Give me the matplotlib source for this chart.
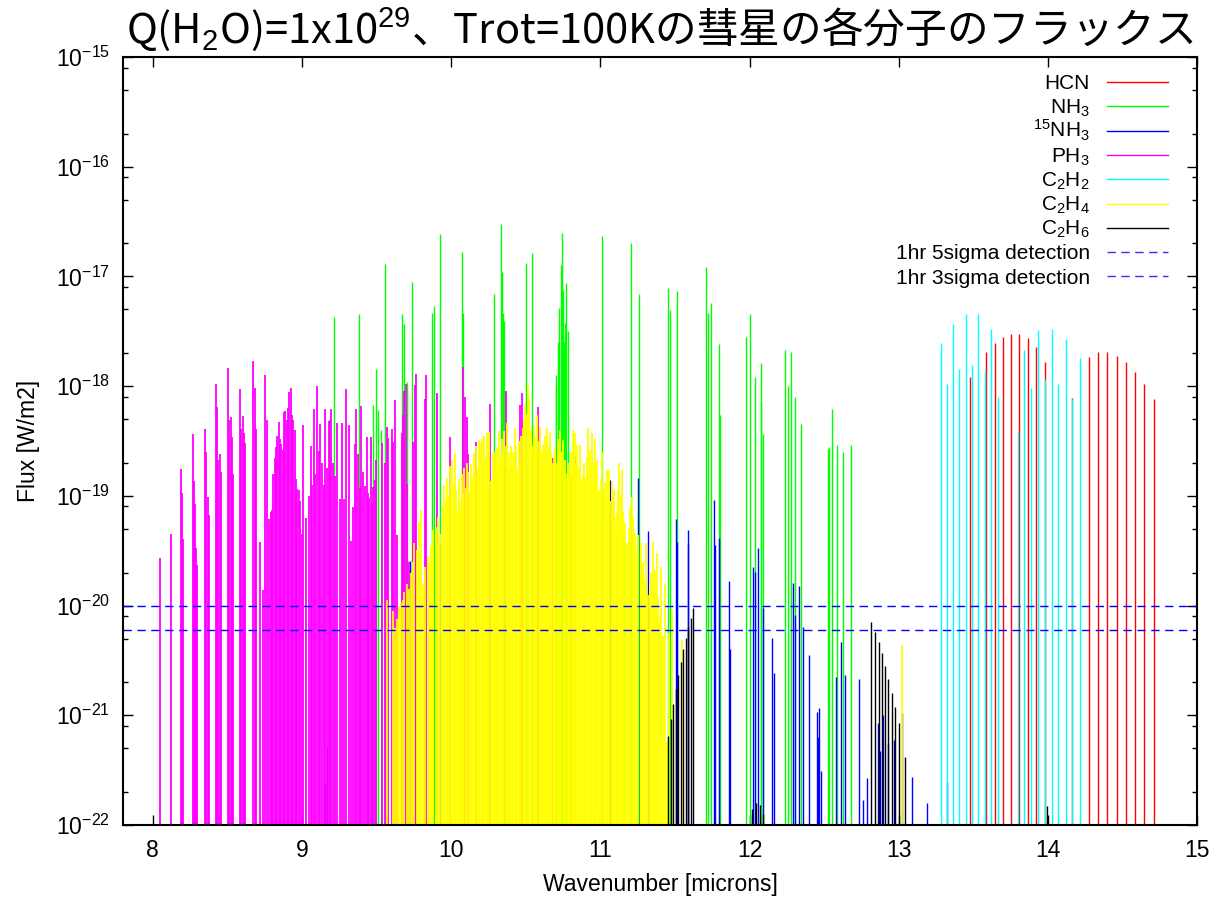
import matplotlib
matplotlib.use('Agg')
import matplotlib.pyplot as plt
import numpy as np

plt.rcParams['font.family'] = ['Liberation Sans', 'DejaVu Sans']
plt.rcParams['mathtext.fontset'] = 'custom'
plt.rcParams['mathtext.rm'] = 'Liberation Sans'
plt.rcParams['mathtext.it'] = 'Liberation Sans:italic'
plt.rcParams['mathtext.bf'] = 'Liberation Sans:bold'

# line positions [microns] and log10(flux [W/m2])
hcn_wl = [13.480, 13.587, 13.643, 13.697, 13.754, 13.808, 13.864, 13.922, 13.980,
          14.159, 14.277, 14.337, 14.397, 14.461, 14.523, 14.584, 14.646, 14.709]
hcn_lf = [-17.919, -17.691, -17.609, -17.552, -17.524, -17.524, -17.558, -17.640, -17.779,
          -18.107, -17.736, -17.691, -17.691, -17.722, -17.779, -17.871, -17.983, -18.117]

nh3_wl = [9.217, 9.383, 9.479, 9.495, 9.507, 9.528, 9.555, 9.669, 9.687, 9.702, 9.736,
          9.870, 9.888, 9.923, 10.071, 10.078, 10.288, 10.334, 10.341, 10.350, 10.357,
          10.504, 10.544, 10.700, 10.705, 10.714, 10.725, 10.734, 10.741, 10.747, 10.757,
          10.765, 10.772, 10.783, 11.010, 11.204, 11.259, 11.456, 11.469, 11.517, 11.708,
          11.723, 11.741, 11.795, 11.805, 11.974, 12.002, 12.034, 12.074, 12.080, 12.090,
          12.240, 12.256, 12.275, 12.306, 12.342, 12.523, 12.534, 12.556, 12.585, 12.625,
          12.677]
nh3_lf = [-17.372, -17.345, -18.171, -17.843, -18.220, -18.399, -16.889, -17.345, -17.433,
          -17.964, -17.050, -17.330, -17.269, -16.615, -16.774, -17.330, -17.162, -16.524,
          -16.956, -17.336, -17.403, -16.880, -16.783, -17.900, -18.000, -17.594, -17.290,
          -16.895, -16.606, -17.123, -17.600, -17.427, -17.062, -17.497, -16.631, -16.692,
          -17.160, -17.102, -17.305, -17.132, -16.911, -17.335, -17.239, -17.615, -18.260,
          -17.554, -17.342, -17.919, -17.785, -18.140, -18.440, -17.670, -18.000, -17.691,
          -18.095, -18.348, -18.572, -18.551, -18.211, -18.536, -18.597, -18.536]

n15h3_wl = [9.155, 9.166, 9.725, 9.928, 10.390, 11.065, 11.255, 11.322, 11.507, 11.513,
            11.586, 11.590, 11.759, 11.768, 11.795, 11.862, 11.869, 12.025, 12.034, 12.059,
            12.088, 12.148, 12.163, 12.293, 12.302, 12.331, 12.360, 12.400, 12.450, 12.459,
            12.468, 12.477, 12.579, 12.610, 12.641, 12.733, 12.762, 12.786, 12.858, 12.876,
            12.895, 12.929, 12.969, 13.024, 13.090, 13.192, 13.322]
n15h3_lf = [-21.64, -21.29, -19.591, -19.432, -18.734, -18.855, -18.840, -19.317, -19.210,
            -19.420, -19.311, -19.440, -19.037, -19.448, -19.380, -19.776, -20.400, -19.645,
            -19.690, -19.478, -20.025, -20.298, -20.617, -19.791, -20.090, -19.818, -20.192,
            -20.450, -20.967, -21.200, -20.937, -21.510, -20.654, -20.335, -20.633, -20.669,
            -21.772, -21.569, -21.067, -21.330, -20.997, -21.250, -21.225, -20.982, -21.559,
            -21.80, -21.61]

ph3_wl = [8.051, 8.120, 8.186, 8.197, 8.203, 8.268, 8.274, 8.283, 8.292, 8.299, 8.347,
          8.358, 8.367, 8.378, 8.424, 8.431, 8.440, 8.449, 8.455, 8.503, 8.512, 8.523,
          8.534, 8.541, 8.585, 8.594, 8.603, 8.610, 8.616, 8.671, 8.682, 8.693, 8.720,
          8.742, 8.755, 8.769, 8.782, 8.791, 8.800, 8.809, 8.817, 8.826, 8.835, 8.844,
          8.853, 8.862, 8.871, 8.880, 8.889, 8.898, 8.907, 8.916, 8.925, 8.934, 8.943,
          8.952, 8.961, 8.970, 8.978, 8.987, 8.998, 9.007, 9.030, 9.045, 9.058, 9.068,
          9.078, 9.090, 9.101, 9.112, 9.123, 9.135, 9.145, 9.153, 9.166, 9.179, 9.191,
          9.197, 9.210, 9.224, 9.237, 9.255, 9.271, 9.284, 9.297, 9.313, 9.328, 9.343,
          9.354, 9.365, 9.374, 9.387, 9.398, 9.412, 9.420, 9.434, 9.443, 9.452, 9.460,
          9.469, 9.478, 9.487, 9.496, 9.535, 9.557, 9.568, 9.579, 9.601, 9.613, 9.626,
          9.635, 9.668, 9.675, 9.684, 9.699, 9.706, 9.719, 9.746, 9.755, 9.764, 9.822,
          9.831, 9.908, 9.992, 10.077, 10.093, 10.104, 10.116, 10.169, 10.263, 10.365,
          10.461, 10.472, 10.584, 10.684, 10.801, 10.830]
ph3_lf = [-19.563, -19.347, -18.758, -18.971, -19.396, -18.439, -18.864, -19.077, -19.478,
          -19.630, -18.390, -18.603, -19.013, -19.174, -17.977, -18.190, -18.676, -18.615,
          -18.782, -17.831, -18.311, -18.281, -18.463, -18.803, -18.026, -18.390, -18.272,
          -18.427, -18.518, -17.770, -18.016, -18.387, -19.420, -19.855, -17.898, -18.305,
          -19.208, -19.144, -19.128, -18.800, -18.651, -18.554, -18.451, -18.329, -18.481,
          -18.524, -18.582, -18.232, -18.223, -18.308, -18.202, -18.050, -18.019, -18.263,
          -18.308, -18.399, -18.849, -18.937, -18.943, -19.043, -19.350, -18.354, -19.200,
          -19.000, -18.548, -18.900, -18.205, -18.800, -18.001, -18.594, -18.345, -18.703,
          -18.900, -18.208, -18.749, -18.317, -18.311, -18.211, -18.700, -18.816, -18.336,
          -19.025, -18.336, -19.028, -18.029, -18.351, -19.411, -19.098, -18.524, -18.208,
          -18.618, -18.931, -18.181, -18.782, -18.907, -18.460, -18.977, -19.016, -18.460,
          -19.074, -18.916, -18.855, -18.673, -18.521, -18.697, -18.372, -18.469, -18.393,
          -18.506, -18.129, -19.353, -18.427, -18.263, -18.044, -17.980, -18.895, -19.600,
          -18.512, -17.986, -17.886, -18.120, -17.901, -18.065, -18.466, -17.822, -18.101,
          -18.284, -18.618, -18.512, -18.162, -18.044, -18.171, -18.065, -18.187, -18.658,
          -18.818, -18.636]

c2h2_wl = [13.282, 13.323, 13.363, 13.407, 13.449, 13.492, 13.534, 13.577, 13.619, 13.665,
           13.798, 13.842, 13.887, 13.931, 13.980, 14.026, 14.070, 14.119, 14.163, 14.212]
c2h2_lf = [-17.603, -17.983, -17.436, -17.846, -17.345, -17.804, -17.345, -17.861, -17.479,
           -18.098, -18.408, -17.673, -18.014, -17.488, -17.934, -17.476, -17.977, -17.567,
           -18.114, -17.746]

c2h4_wl = [9.572, 9.610, 9.625, 9.639, 9.650, 9.662, 9.675, 9.686, 9.702,
           9.715, 9.730, 9.742, 9.753, 9.769, 9.785, 9.800, 9.814, 9.828, 9.843, 9.853,
           9.863, 9.872, 9.881, 9.897, 9.905, 9.914, 9.925, 9.937, 9.945, 9.954, 9.963,
           9.973, 9.982, 9.991, 10.000, 10.008, 10.017, 10.026, 10.035, 10.044, 10.053,
           10.062, 10.071, 10.080, 10.089, 10.098, 10.106, 10.115, 10.124, 10.133, 10.142,
           10.151, 10.160, 10.169, 10.178, 10.187, 10.196, 10.205, 10.214, 10.223, 10.232,
           10.241, 10.250, 10.256, 10.265, 10.279, 10.287, 10.294, 10.302, 10.310, 10.317,
           10.323, 10.331, 10.339, 10.348, 10.357, 10.367, 10.377, 10.386, 10.395, 10.403,
           10.410, 10.418, 10.426, 10.435, 10.444, 10.453, 10.462, 10.471, 10.480, 10.488,
           10.495, 10.505, 10.513, 10.524, 10.536, 10.547, 10.555, 10.562, 10.570, 10.578,
           10.587, 10.596, 10.605, 10.614, 10.622, 10.629, 10.637, 10.645, 10.654, 10.663,
           10.672, 10.681, 10.689, 10.696, 10.705, 10.714, 10.722, 10.730, 10.739, 10.748,
           10.756, 10.763, 10.772, 10.781, 10.789, 10.797, 10.806, 10.815, 10.823, 10.830,
           10.838, 10.846, 10.855, 10.864, 10.873, 10.882, 10.890, 10.900, 10.910, 10.920,
           10.931, 10.939, 10.947, 10.956, 10.964, 10.972, 10.980, 10.989, 10.998, 11.006,
           11.014, 11.023, 11.031, 11.043, 11.050, 11.058, 11.067, 11.076, 11.085, 11.094,
           11.103, 11.112, 11.120, 11.128, 11.136, 11.143, 11.151, 11.159, 11.168, 11.177,
           11.190, 11.200, 11.210, 11.221, 11.233, 11.244, 11.255, 11.270, 11.280, 11.288,
           11.297, 11.306, 11.320, 11.333, 11.342, 11.351, 11.360, 11.367, 11.378, 11.389,
           11.397, 11.405, 11.418, 11.434, 11.449, 11.463, 11.478, 11.545, 13.020]
c2h4_lf = [-19.95, -20.05, -20.20, -20.12, -20.00, -19.98, -19.95, -19.88,
           -19.80, -19.85, -19.70, -19.60, -19.43, -19.49, -19.24, -19.13, -19.80, -19.65,
           -19.55, -19.60, -19.45, -19.50, -19.31, -19.28, -19.45, -19.19, -19.35, -19.43,
           -19.10, -18.90, -19.05, -18.84, -19.00, -18.73, -18.95, -18.67, -18.90, -18.61,
           -18.95, -19.14, -18.85, -19.05, -18.80, -18.97, -18.75, -18.93, -18.70, -18.78,
           -18.95, -18.71, -18.85, -18.61, -18.80, -18.55, -18.75, -18.49, -18.51, -18.48,
           -18.70, -18.45, -18.65, -18.43, -18.60, -18.42, -18.86, -18.61, -18.80, -18.60,
           -18.75, -18.56, -18.70, -18.41, -18.65, -18.48, -18.60, -18.41, -18.55, -18.34,
           -18.60, -18.75, -18.55, -18.73, -18.60, -18.38, -18.55, -18.76, -18.50, -18.69,
           -18.45, -18.38, -18.30, -18.16, -18.25, -17.99, -18.10, -18.40, -18.55, -18.35,
           -18.46, -18.60, -18.26, -18.50, -18.37, -18.60, -18.54, -18.65, -18.45, -18.60,
           -18.38, -18.55, -18.42, -18.60, -18.70, -18.65, -18.57, -18.70, -18.48, -18.62,
           -18.40, -18.60, -18.49, -18.75, -18.67, -18.80, -18.70, -18.85, -18.73, -18.60,
           -18.40, -18.62, -18.43, -18.70, -18.54, -18.75, -18.54, -18.85, -18.81, -18.70,
           -18.84, -18.65, -18.38, -18.58, -18.75, -18.43, -18.70, -18.48, -18.80, -18.67,
           -18.95, -19.24, -18.85, -18.60, -18.95, -18.87, -18.76, -19.00, -18.76, -19.05,
           -18.86, -19.10, -18.95, -19.20, -19.16, -18.95, -18.70, -19.00, -18.76, -19.15,
           -19.36, -19.25, -19.43, -19.30, -19.10, -19.01, -19.19, -19.34, -19.50, -19.36,
           -19.43, -19.70, -19.60, -19.75, -19.43, -19.90, -19.81, -19.70, -19.42, -19.85,
           -19.68, -19.52, -19.92, -20.10, -19.65, -20.28, -19.80, -21.24, -20.25, -20.04,
           -20.31, -20.36]

c2h6_wl = [11.456, 11.472, 11.487, 11.505, 11.523, 11.538, 11.556, 11.571, 11.590, 11.608,
           11.624, 12.020, 12.045, 12.070, 12.090, 12.817, 12.844, 12.866, 12.886, 12.911,
           12.931, 12.955, 12.977, 13.000, 13.045, 13.992]
c2h6_lf = [-21.189, -21.037, -20.900, -20.760, -20.633, -20.517, -20.399, -20.298, -20.192,
           -20.110, -20.025, -21.85, -21.80, -21.82, -21.90, -20.147, -20.244, -20.335,
           -20.435, -20.551, -20.669, -20.794, -20.927, -21.067, -21.377, -21.83]

det_5sigma = 1e-20
det_3sigma = 6e-21

x_ticks = [8, 9, 10, 11, 12, 13, 14, 15]
y_ticks = [1e-22, 1e-21, 1e-20, 1e-19, 1e-18, 1e-17, 1e-16, 1e-15]

species = [
    ('HCN', hcn_wl, hcn_lf, '#ff0000', 1.0),
    ('NH$_3$', nh3_wl, nh3_lf, '#00ff00', 1.0),
    ('$^{15}$NH$_3$', n15h3_wl, n15h3_lf, '#0000ff', 1.0),
    ('PH$_3$', ph3_wl, ph3_lf, '#ff00ff', 1.3),
    ('C$_2$H$_2$', c2h2_wl, c2h2_lf, '#00ffff', 1.0),
    ('C$_2$H$_4$', c2h4_wl, c2h4_lf, '#ffff00', 1.3),
    ('C$_2$H$_6$', c2h6_wl, c2h6_lf, '#000000', 1.0),
]

fig = plt.figure(figsize=(12.11, 8.98), dpi=100)
ax = fig.add_axes([0.1015, 0.0813, 0.8870, 0.8552])
ax.set_yscale('log')
ax.set_xlim(7.8, 15)
ax.set_ylim(1e-22, 1e-15)

for name, wl, lf, col, lw in species:
    ax.vlines(wl, 1e-23, 10.0 ** np.array(lf), colors=col, linewidth=lw)

ax.axhline(det_5sigma, color='#0000ff', lw=1.0, dashes=(6, 4))
ax.axhline(det_3sigma, color='#0000ff', lw=1.0, dashes=(6, 4))

# legend, gnuplot style: text right aligned, sample on the right
labels = [s[0] for s in species] + ['1hr 5sigma detection', '1hr 3sigma detection']
colors = [s[3] for s in species] + ['#3030ff', '#3030ff']
y0 = 0.9674
dy = 24.3 / 768
for i in range(len(labels)):
    y = y0 - i * dy
    ax.text(0.9, y - 0.0095, labels[i], transform=ax.transAxes, ha='right',
            va='baseline', fontsize=15)
    if i < 7:
        ax.plot([0.9165, 0.9725], [y, y], transform=ax.transAxes, color=colors[i], lw=1.0)
    else:
        ax.plot([0.9165, 0.9725], [y, y], transform=ax.transAxes, color=colors[i], lw=1.0,
                dashes=(6, 4))

# minor ticks at 2, 5, 8 of each decade, like the original
minor_y = [m * t for t in y_ticks[:-1] for m in (2, 5, 8)]
ax.set_xticks(x_ticks)
ax.set_yticks(y_ticks)
ax.set_yticks(minor_y, minor=True)
ax.yaxis.set_minor_formatter(matplotlib.ticker.NullFormatter())
ax.yaxis.set_major_formatter(matplotlib.ticker.LogFormatterSciNotation())
ax.tick_params(which='both', direction='in', top=True, right=True, labelsize=16.5)
ax.tick_params(which='major', length=7, width=1.0)
ax.tick_params(which='minor', length=3.5, width=1.0)
ax.tick_params(axis='x', pad=10)
ax.tick_params(axis='y', pad=9)
for sp in ax.spines.values():
    sp.set_linewidth(1.5)

ax.set_xlabel('Wavenumber [microns]', fontsize=16.5, labelpad=8)
ax.set_ylabel('Flux [W/m2]', fontsize=16.5, labelpad=12)
ax.set_title('Q(H$_2$O)=1x10$^{29}$、Trot=100Kの彗星の各分子のフラックス',
             family=['Noto Sans CJK JP', 'DejaVu Sans'], fontsize=30, pad=10)

fig.savefig('out.png', dpi=100)
